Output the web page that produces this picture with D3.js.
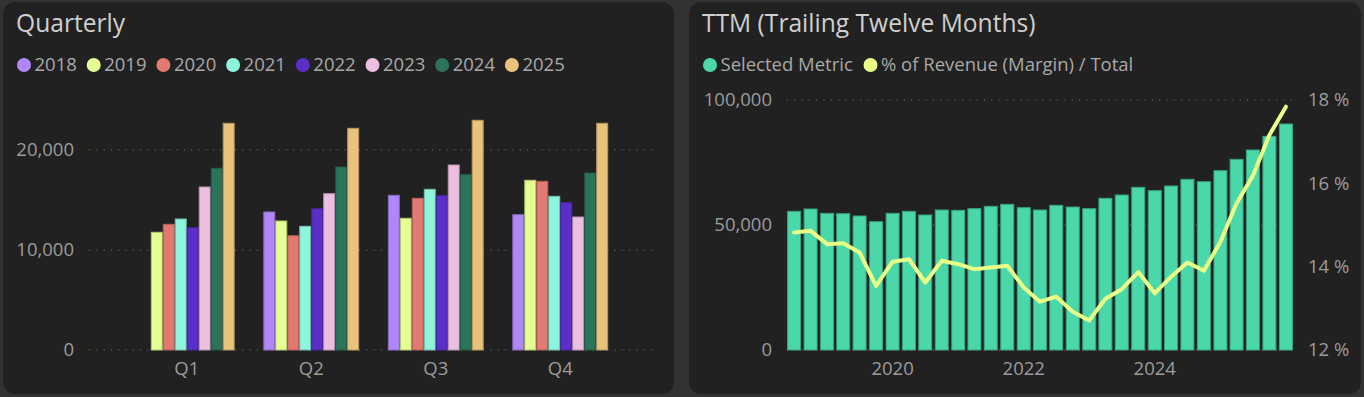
<!DOCTYPE html>
<html>
<head>
<meta charset="utf-8">
<script src="https://cdn.jsdelivr.net/npm/d3@7"></script>
<style>
  html, body { margin: 0; padding: 0; background: #323232; }
  svg { display: block; font-family: 'Open Sans', sans-serif; }
  .grid line { stroke: #7a7a7a; stroke-dasharray: 1, 6.3; }
  .axis-label { fill: #9c9c9c; font-size: 18.5px; }
  .legend-label { fill: #a8a8a8; font-size: 18.5px; }
  .title { fill: #cfcfcf; font-size: 24.6px; }
</style>
</head>
<body>
<svg id="chart" width="1364" height="397"></svg>
<script>
// quarterly values per year (Q1..Q4), null where there is no data
const quarters = ['Q1', 'Q2', 'Q3', 'Q4'];
const years = ['2018', '2019', '2020', '2021', '2022', '2023', '2024', '2025'];
const v2018 = [null, 13800, 15470, 13530];
const v2019 = [11770, 12900, 13170, 16970];
const v2020 = [12570, 11430, 15170, 16870];
const v2021 = [13100, 12370, 16070, 15370];
const v2022 = [12230, 14130, 15430, 14730];
const v2023 = [16300, 15630, 18500, 13300];
const v2024 = [18170, 18300, 17530, 17700];
const v2025 = [22670, 22170, 22970, 22670];
const yearColors = ['#b087f8', '#e6ff94', '#e27a72', '#8ff4dc', '#5a2fc8', '#ecbfe1', '#2b7459', '#e9c27b'];
const quarterlyTicks = [0, 10000, 20000];

// TTM series, one entry per quarter
const ttmPeriods = ['2018Q2', '2018Q3', '2018Q4',
  '2019Q1', '2019Q2', '2019Q3', '2019Q4',
  '2020Q1', '2020Q2', '2020Q3', '2020Q4',
  '2021Q1', '2021Q2', '2021Q3', '2021Q4',
  '2022Q1', '2022Q2', '2022Q3', '2022Q4',
  '2023Q1', '2023Q2', '2023Q3', '2023Q4',
  '2024Q1', '2024Q2', '2024Q3', '2024Q4',
  '2025Q1', '2025Q2', '2025Q3', '2025Q4'];
const ttmValues = [55470, 56400, 54670, 54530, 53600, 51330, 54670, 55470, 54000, 56000,
  55870, 56530, 57470, 58270, 56930, 56000, 57870, 57200, 56530, 60670,
  62000, 65070, 63730, 65600, 68270, 67330, 71730, 76270, 80000, 85470, 90400];
const ttmMargin = [14.82, 14.86, 14.54, 14.56, 14.34, 13.54, 14.12, 14.18, 13.62, 14.14,
  14.06, 13.94, 13.98, 14.02, 13.50, 13.16, 13.28, 12.92, 12.71, 13.23,
  13.46, 13.87, 13.36, 13.76, 14.10, 13.90, 14.60, 15.52, 16.18, 17.16, 17.84];
const ttmLeftTicks = [0, 50000, 100000];
const ttmRightTicks = [12, 14, 16, 18];
const ttmYearTicks = [2020, 2022, 2024];
const ttmLegend = ['Selected Metric', '% of Revenue (Margin) / Total'];
const ttmBarColor = '#4ad8ab';
const ttmLineColor = '#e8ff88';

const svg = d3.select('#chart');
const fmt = d3.format(',');

// panels
svg.append('rect').attr('x', 3).attr('y', 2).attr('width', 671).attr('height', 392)
  .attr('rx', 12).attr('fill', '#212121');
svg.append('rect').attr('x', 689).attr('y', 2).attr('width', 672).attr('height', 392)
  .attr('rx', 12).attr('fill', '#212121');

// ---------- Quarterly ----------
const left = svg.append('g');
left.append('text').attr('class', 'title').attr('x', 16).attr('y', 32).text('Quarterly');

const legend1 = left.selectAll('.lg').data(years).enter().append('g')
  .attr('transform', (d, i) => 'translate(' + (24 + i * 69.7) + ',65)');
legend1.append('circle').attr('r', 7).attr('fill', (d, i) => yearColors[i]);
legend1.append('text').attr('class', 'legend-label').attr('x', 10.5)
  .attr('dy', '0.35em').text(d => d);

const series = [v2018, v2019, v2020, v2021, v2022, v2023, v2024, v2025];
const table = quarters.map((q, qi) => ({
  q: q,
  vals: years.map((y, yi) => ({ year: y, color: yearColors[yi], value: series[yi][qi] }))
}));

const y1 = d3.scaleLinear().domain([0, 25000]).range([350, 100]);
const x1 = d3.scaleBand().domain(quarters).range([89, 658])
  .paddingInner(0.23).paddingOuter(0.4);
const x1y = d3.scaleBand().domain(years).range([0, x1.bandwidth()]);

left.append('g').attr('class', 'grid')
  .selectAll('line').data(quarterlyTicks).enter().append('line')
  .attr('x1', 89).attr('x2', 658)
  .attr('y1', d => y1(d)).attr('y2', d => y1(d));

left.selectAll('.ylab').data(quarterlyTicks).enter().append('text')
  .attr('class', 'axis-label').attr('text-anchor', 'end')
  .attr('x', 74).attr('y', d => y1(d)).attr('dy', '0.35em').text(d => fmt(d));

const groups = left.selectAll('.qgroup').data(table).enter().append('g')
  .attr('transform', d => 'translate(' + x1(d.q) + ',0)');
groups.selectAll('rect').data(d => d.vals.filter(v => v.value != null)).enter().append('rect')
  .attr('x', d => x1y(d.year) + 0.5)
  .attr('width', x1y.bandwidth() - 1)
  .attr('y', d => y1(d.value))
  .attr('height', d => y1(0) - y1(d.value))
  .attr('fill', d => d.color)
  .attr('stroke', d => d3.color(d.color).darker(0.7))
  .attr('stroke-width', 1);

left.selectAll('.xlab').data(quarters).enter().append('text')
  .attr('class', 'axis-label').attr('text-anchor', 'middle')
  .attr('x', d => x1(d) + x1.bandwidth() / 2).attr('y', 369).attr('dy', '0.35em').text(d => d);

// ---------- TTM ----------
const right = svg.append('g');
right.append('text').attr('class', 'title').attr('x', 702).attr('y', 32)
  .text('TTM (Trailing Twelve Months)');

const lgX = [710, 870.5];
const lgC = [ttmBarColor, ttmLineColor];
const legend2 = right.selectAll('.lg2').data(ttmLegend).enter().append('g')
  .attr('transform', (d, i) => 'translate(' + lgX[i] + ',65)');
legend2.append('circle').attr('r', 7).attr('fill', (d, i) => lgC[i]);
legend2.append('text').attr('class', 'legend-label').attr('x', 10.5)
  .attr('dy', '0.35em').text(d => d);

// quarter end date (first day of next quarter)
const periodDate = p => new Date(+p.slice(0, 4), +p.slice(5) * 3, 1);
const ttm = ttmPeriods.map((p, i) => ({ date: periodDate(p), value: ttmValues[i], margin: ttmMargin[i] }));

const x2 = d3.scaleTime()
  .domain([d3.timeDay.offset(ttm[0].date, -45), d3.timeDay.offset(ttm[ttm.length - 1].date, 45)])
  .range([786, 1294]);
const y2 = d3.scaleLinear().domain([0, 100000]).range([350, 100]);
const y2r = d3.scaleLinear().domain([12, 18]).range([350, 100]);

right.append('g').attr('class', 'grid')
  .selectAll('line').data(ttmLeftTicks).enter().append('line')
  .attr('x1', 787).attr('x2', 1293)
  .attr('y1', d => y2(d)).attr('y2', d => y2(d));

right.selectAll('.ylab').data(ttmLeftTicks).enter().append('text')
  .attr('class', 'axis-label').attr('text-anchor', 'end')
  .attr('x', 772).attr('y', d => y2(d)).attr('dy', '0.35em').text(d => fmt(d));

right.selectAll('.yrlab').data(ttmRightTicks).enter().append('text')
  .attr('class', 'axis-label').attr('text-anchor', 'start')
  .attr('x', 1308).attr('y', d => y2r(d)).attr('dy', '0.35em').text(d => d + ' %');

const barW = 13;
right.selectAll('.bar').data(ttm).enter().append('rect')
  .attr('x', d => x2(d.date) - barW / 2)
  .attr('width', barW)
  .attr('y', d => y2(d.value))
  .attr('height', d => y2(0) - y2(d.value))
  .attr('fill', ttmBarColor)
  .attr('stroke', d3.color(ttmBarColor).darker(0.8))
  .attr('stroke-width', 1);

const line = d3.line()
  .x(d => x2(d.date))
  .y(d => y2r(d.margin));
right.append('path').datum(ttm)
  .attr('d', line)
  .attr('fill', 'none')
  .attr('stroke', ttmLineColor)
  .attr('stroke-width', 4)
  .attr('stroke-linejoin', 'round')
  .attr('stroke-linecap', 'round');

right.selectAll('.xlab').data(ttmYearTicks).enter().append('text')
  .attr('class', 'axis-label').attr('text-anchor', 'middle')
  .attr('x', d => x2(new Date(d, 0, 1))).attr('y', 369).attr('dy', '0.35em').text(d => d);
</script>
</body>
</html>
